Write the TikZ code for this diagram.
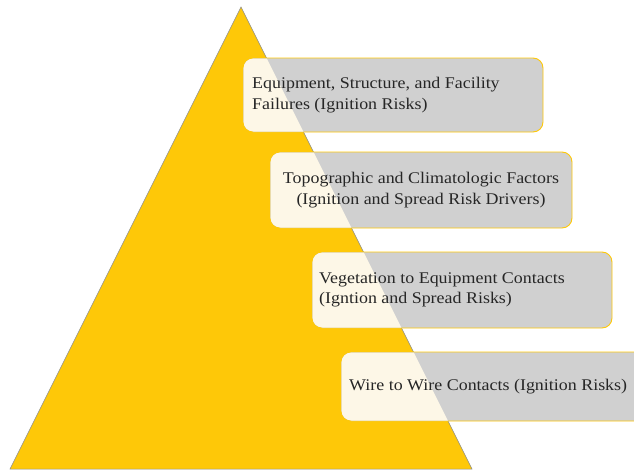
\documentclass[tikz,border=0pt]{standalone}
\usepackage{fontspec}
\setmainfont{Liberation Serif}[FakeStretch=1.1]
\definecolor{pyrYellow}{RGB}{254,200,8}
\definecolor{pyrCream}{RGB}{253,247,231}
\definecolor{boxGray}{RGB}{208,208,208}
\definecolor{txtGray}{RGB}{38,38,38}
\tikzset{
  boxshape/.style={draw=pyrYellow, line width=0.9pt, fill=boxGray, rounded corners=10pt},
  creamfill/.style={fill=pyrCream, rounded corners=10pt},
  txt/.style={inner sep=0pt, text=txtGray, font=\fontsize{16.3}{20.5}\selectfont},
  tri/.style={fill=pyrYellow, draw=black!45, line width=0.5pt, line join=miter}
}
\begin{document}
\begin{tikzpicture}[x=1pt,y=-1pt]
\path[use as bounding box] (0,0) rectangle (634,471);
% pyramid
\coordinate (bl) at (10,469);
\coordinate (ap) at (241,7);
\coordinate (br) at (472,469);
\draw[tri] (bl) -- (ap) -- (br) -- cycle;
% boxes
\foreach \n/\xa/\ya/\xb/\yb in {1/243/58/543/132, 2/270/152/572/228, 3/312/252/612/328, 4/341/352/660/421}{
  \draw[boxshape] (\xa,\ya) rectangle (\xb,\yb);
  \begin{scope}
    \clip (bl) -- (ap) -- (br) -- cycle;
    \fill[creamfill] (\xa+0.5,\ya+0.5) rectangle (\xb,\yb-0.5);
  \end{scope}
}
% texts
\node[txt, anchor=west, align=left] (t1) at (252,95) {Equipment, Structure, and Facility\\Failures (Ignition Risks)};
\node[txt, align=center] (t2) at (421,190) {Topographic and Climatologic Factors\\(Ignition and Spread Risk Drivers)};
\node[txt, anchor=west, align=left] (t3) at (319,290) {Vegetation to Equipment Contacts\\(Igntion and Spread Risks)};
\node[txt, anchor=west, align=left] (t4) at (349,386.5) {Wire to Wire Contacts (Ignition Risks)};
\end{tikzpicture}
\end{document}
